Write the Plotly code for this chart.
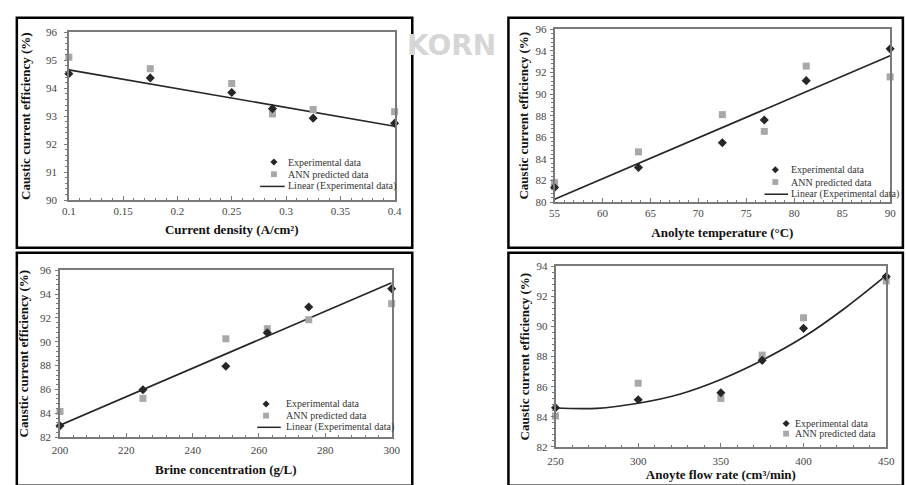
import plotly.graph_objects as go

W, H = 906, 485

# ---------------- data ----------------
# Panel 1: current density
cd_x = [0.1, 0.175, 0.25, 0.2875, 0.325, 0.4]
cd_exp = [94.52, 94.37, 93.85, 93.27, 92.93, 92.75]
cd_ann = [95.11, 94.70, 94.17, 93.08, 93.24, 93.16]
cd_trend_x = [0.1, 0.4]
cd_trend_y = [94.66, 92.64]

# Panel 2: anolyte temperature
t_x = [55, 63.75, 72.5, 76.875, 81.25, 90]
t_exp = [81.35, 83.2, 85.5, 87.6, 91.25, 94.2]
t_ann = [81.8, 84.65, 88.1, 86.55, 92.6, 91.6]
t_trend_x = [55, 90]
t_trend_y = [80.25, 93.55]

# Panel 3: brine concentration
b_x = [200, 225, 250, 262.5, 275, 300]
b_exp = [82.95, 85.97, 87.95, 90.75, 92.92, 94.45]
b_ann = [84.15, 85.25, 90.25, 91.1, 91.85, 93.2]
b_trend_x = [200, 300]
b_trend_y = [83.0, 94.96]

# Panel 4: anolyte flow rate
f_x = [250, 300, 350, 375, 400, 450]
f_exp = [84.6, 85.13, 85.6, 87.75, 89.88, 93.32]
f_ann = [84.05, 86.23, 85.22, 88.1, 90.58, 93.03]
f_trend_x = [250, 275, 300, 325, 350, 375, 400, 425, 450]
f_trend_y = [84.58, 84.56, 84.9, 85.5, 86.48, 87.76, 89.3, 91.22, 93.4]

# ---------------- styling ----------------
SERIF = "Liberation Serif"
AX = "#7a7a7a"
DARK = "#262626"
GREY = "#a8a8a8"


def px(x):
    return x / W


def py(y):
    return 1 - y / H


fig = go.Figure()

panels = [
    dict(x=cd_x, e=cd_exp, a=cd_ann, tx=cd_trend_x, ty=cd_trend_y, shape="linear"),
    dict(x=t_x, e=t_exp, a=t_ann, tx=t_trend_x, ty=t_trend_y, shape="linear"),
    dict(x=b_x, e=b_exp, a=b_ann, tx=b_trend_x, ty=b_trend_y, shape="linear"),
    dict(x=f_x, e=f_exp, a=f_ann, tx=f_trend_x, ty=f_trend_y, shape="spline"),
]
for i, p in enumerate(panels):
    sfx = "" if i == 0 else str(i + 1)
    xa, ya = "x" + sfx, "y" + sfx
    fig.add_trace(go.Scatter(x=p["tx"], y=p["ty"], mode="lines", xaxis=xa, yaxis=ya,
                             line=dict(color=DARK, width=1.7, shape=p["shape"]),
                             name="Linear (Experimental data)", showlegend=False, cliponaxis=False))
    fig.add_trace(go.Scatter(x=p["x"], y=p["a"], mode="markers", xaxis=xa, yaxis=ya,
                             marker=dict(symbol="square", size=7, color=GREY),
                             name="ANN predicted data", showlegend=False, cliponaxis=False))
    fig.add_trace(go.Scatter(x=p["x"], y=p["e"], mode="markers", xaxis=xa, yaxis=ya,
                             marker=dict(symbol="diamond", size=7, color=DARK),
                             name="Experimental data", showlegend=False, cliponaxis=False))


def xaxis(l, r, rng, dtick, mdtick, anchor, title, standoff, lstand=0):
    return dict(domain=[px(l), px(r)], range=rng, tick0=rng[0], dtick=dtick, anchor=anchor,
                showline=True, mirror=True, linecolor=AX, linewidth=1.5,
                ticks="inside", ticklen=4, tickcolor=AX, tickwidth=1,
                minor=dict(dtick=mdtick, tick0=rng[0], ticks="inside", ticklen=2.5, tickcolor=AX),
                showgrid=False, zeroline=False, ticklabelstandoff=lstand,
                tickfont=dict(family=SERIF, size=11, color="#444"),
                title=dict(text=title, standoff=standoff,
                           font=dict(family=SERIF, size=13, color="#111", weight="bold")),
                fixedrange=True)


def yaxis(t, b, rng, dtick, mdtick, anchor, standoff, lstand=0):
    return dict(domain=[py(b), py(t)], range=rng, tick0=rng[0], dtick=dtick, anchor=anchor,
                showline=True, mirror=True, linecolor=AX, linewidth=1.5,
                ticks="outside", ticklen=3, tickcolor=AX, tickwidth=1,
                minor=dict(dtick=mdtick, tick0=rng[0], ticks="outside", ticklen=2, tickcolor=AX),
                showgrid=False, zeroline=False, ticklabelstandoff=lstand,
                tickfont=dict(family=SERIF, size=11, color="#444"),
                title=dict(text="Caustic current efficiency (%)", standoff=standoff,
                           font=dict(family=SERIF, size=13, color="#111", weight="bold")),
                fixedrange=True)


fig.update_layout(
    width=W, height=H, margin=dict(l=0, r=0, t=0, b=0),
    paper_bgcolor="white", plot_bgcolor="white", showlegend=False,
    xaxis=xaxis(62, 394, [0.1, 0.4], 0.05, 0.01, "y", "Current density (A/cm²)", 9),
    yaxis=yaxis(27, 199, [90, 96], 1, 0.2, "x", 12, 5),
    xaxis2=xaxis(557, 899, [55, 90], 5, 1, "y2", "Anolyte temperature (°C)", 10),
    yaxis2=yaxis(24, 201, [80, 96], 2, 0.4, "x2", 4, 1),
    xaxis3=xaxis(53, 391, [200, 300], 20, 4, "y3", "Brine concentration (g/L)", 10, 2),
    yaxis3=yaxis(271, 442, [82, 96], 2, 0.4, "x3", 8, 2),
    xaxis4=xaxis(558, 895, [250, 450], 50, 10, "y4", "Anoyte flow rate (cm³/min)", 4, 3),
    yaxis4=yaxis(267, 452, [82, 94], 2, 0.4, "x4", 4, 1),
)

shapes = []
annotations = []

# panel frames
for (l, t, r, b) in [(9, 12, 412, 248), (510, 12, 912, 248), (9, 253, 412, 492), (510, 253, 912, 492)]:
    shapes.append(dict(type="rect", xref="paper", yref="paper", x0=px(l), x1=px(r), y0=py(b), y1=py(t),
                       line=dict(color="black", width=2.5), fillcolor="rgba(0,0,0,0)", layer="below"))

# faint watermark fragment visible between the panels
annotations.append(dict(text="KORN", xref="paper", yref="paper", x=px(499), y=py(40),
                        xanchor="right", yanchor="middle", showarrow=False,
                        font=dict(family="DejaVu Sans", size=28, color="#d6d6d6", weight="bold")))


def legend(sym_x, text_x, rows, labels, line_x):
    kinds = ["diamond", "square", "line"]
    for k, (ry, lab) in enumerate(zip(rows, labels)):
        kind = kinds[k]
        if kind == "diamond":
            d = 3.6
            path = "M {},{} L {},{} L {},{} L {},{} Z".format(
                px(sym_x - d), py(ry), px(sym_x), py(ry - d), px(sym_x + d), py(ry), px(sym_x), py(ry + d))
            shapes.append(dict(type="path", xref="paper", yref="paper", path=path,
                               fillcolor=DARK, line=dict(width=0), layer="above"))
        elif kind == "square":
            s = 3.0
            shapes.append(dict(type="rect", xref="paper", yref="paper",
                               x0=px(sym_x - s), x1=px(sym_x + s), y0=py(ry + s), y1=py(ry - s),
                               fillcolor=GREY, line=dict(width=0), layer="above"))
        else:
            shapes.append(dict(type="line", xref="paper", yref="paper",
                               x0=px(line_x[0]), x1=px(line_x[1]), y0=py(ry), y1=py(ry),
                               line=dict(color=DARK, width=1.5), layer="above"))
        annotations.append(dict(text=lab, xref="paper", yref="paper", x=px(text_x), y=py(ry),
                                xanchor="left", yanchor="middle", showarrow=False,
                                font=dict(family=SERIF, size=10, color="#333")))


labels3 = ["Experimental data", "ANN predicted data", "Linear (Experimental data)"]
legend(271, 283, [160, 172.5, 185], labels3, (257, 282))
legend(782, 796, [168, 180.5, 193], labels3, (771, 795))
legend(263, 281, [408, 420, 432], labels3, (254, 278))
legend(793, 800, [428, 438.5], labels3[:2], None)

fig.update_layout(shapes=shapes, annotations=annotations)

fig.write_html("out.html")
